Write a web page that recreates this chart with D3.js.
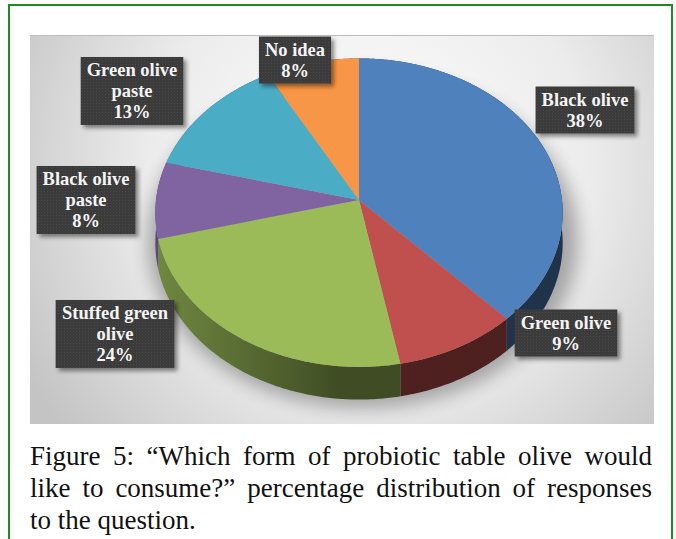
<!DOCTYPE html>
<html>
<head>
<meta charset="utf-8">
<script src="https://cdn.jsdelivr.net/npm/d3@7"></script>
<style>
  body { margin: 0; background: #fff; }
  #wrap { position: relative; width: 676px; height: 539px; overflow: hidden; }
  svg { position: absolute; left: 0; top: 0; }
  #caption { position: absolute; left: 30px; top: 440px; width: 622px;
             font-family: "Liberation Serif", serif; font-size: 27px; color: #111; }
  #caption div { height: 32px; line-height: 32px; white-space: nowrap; }
  #caption .just { text-align: justify; text-align-last: justify; }
</style>
</head>
<body>
<div id="wrap">
  <svg width="676" height="539"></svg>
  <div id="caption"></div>
</div>
<script>
// data
var categories = ['Black olive', 'Green olive', 'Stuffed green olive', 'Black olive paste', 'Green olive paste', 'No idea'];
var values = [38, 9, 24, 8, 13, 8];
var colors = ['#4f81bd', '#c0504d', '#9bbb59', '#8064a2', '#4bacc6', '#f79646'];
var labelLines = [['Black olive'], ['Green olive'], ['Stuffed green', 'olive'], ['Black olive', 'paste'], ['Green olive', 'paste'], ['No idea']];
var captionLines = ['Figure 5: \u201cWhich form of probiotic table olive would',
                    'like to consume?\u201d percentage distribution of responses',
                    'to the question.'];

// layout (label box centres)
var labelPos = [[585, 110], [566, 333], [115, 334], [86, 200], [132, 91], [295, 60]];

var svg = d3.select('svg');
var defs = svg.append('defs');

// outer green frame
svg.append('rect').attr('x', 9).attr('y', 5).attr('width', 663).attr('height', 560)
  .attr('fill', 'none').attr('stroke', '#1f8a1f').attr('stroke-width', 2);

// chart background
var bg = defs.append('radialGradient').attr('id', 'bg')
  .attr('gradientUnits', 'userSpaceOnUse').attr('cx', 370).attr('cy', 170).attr('r', 400);
bg.append('stop').attr('offset', 0).attr('stop-color', '#ffffff');
bg.append('stop').attr('offset', 0.55).attr('stop-color', '#ececec');
bg.append('stop').attr('offset', 1).attr('stop-color', '#c4c4c4');
svg.append('rect').attr('x', 30).attr('y', 35).attr('width', 624).attr('height', 389)
  .attr('fill', 'url(#bg)');
svg.append('line').attr('x1', 30).attr('x2', 654).attr('y1', 35.5).attr('y2', 35.5)
  .attr('stroke', '#bdbdbd');

// filters
var blur = defs.append('filter').attr('id', 'blur').attr('x', '-30%').attr('y', '-30%').attr('width', '160%').attr('height', '160%');
blur.append('feGaussianBlur').attr('stdDeviation', 9);
var ds = defs.append('filter').attr('id', 'ds').attr('x', '-20%').attr('y', '-20%').attr('width', '150%').attr('height', '150%');
ds.append('feDropShadow').attr('dx', 3).attr('dy', 3).attr('stdDeviation', 2)
  .attr('flood-color', '#000').attr('flood-opacity', 0.45);
var pat = defs.append('pattern').attr('id', 'dots').attr('patternUnits', 'userSpaceOnUse')
  .attr('width', 3).attr('height', 3);
pat.append('rect').attr('width', 3).attr('height', 3).attr('fill', '#3b3b3b');
pat.append('rect').attr('width', 1).attr('height', 1).attr('fill', '#4a4a4a');

// 3d projection of the pie
var cx = 359, cy = 200, R = 203, depth = 30;
var tilt = 41 * Math.PI / 180, dist = 8;
var sinT = Math.sin(tilt), cosT = Math.cos(tilt);
function proj(a, drop) {
  var u = Math.sin(a), v = -Math.cos(a);
  var s = dist / (dist - v * sinT);
  return [cx + R * u * s, cy + R * v * cosT * s + (drop || 0) * s];
}
function rim(a0, a1, drop) {
  var n = Math.max(2, Math.ceil((a1 - a0) / 0.01));
  return d3.range(n + 1).map(function(i) { return proj(a0 + (a1 - a0) * i / n, drop); });
}

var arcs = d3.pie().sort(null).value(function(d) { return d; })(values);

// shadow below the pie
svg.append('ellipse').attr('cx', cx + 4).attr('cy', cy + 40).attr('rx', R + 12).attr('ry', 168)
  .attr('fill', '#000').attr('opacity', 0.3).attr('filter', 'url(#blur)');

// side gradients
arcs.forEach(function(d, i) {
  var g = defs.append('linearGradient').attr('id', 'side' + i)
    .attr('gradientUnits', 'userSpaceOnUse').attr('x1', cx - R).attr('x2', cx + R).attr('y1', 0).attr('y2', 0);
  g.append('stop').attr('offset', 0).attr('stop-color', d3.color(colors[i]).darker(0.9));
  g.append('stop').attr('offset', 0.45).attr('stop-color', d3.color(colors[i]).darker(2.5));
  g.append('stop').attr('offset', 1).attr('stop-color', d3.color(colors[i]).darker(2.6));
});

var line = d3.line();
var backSides = [], frontSides = [];
arcs.forEach(function(d, i) {
  var a0 = d.startAngle, a1 = d.endAngle;
  var f0 = Math.max(a0, Math.PI / 2), f1 = Math.min(a1, 3 * Math.PI / 2);
  if (f1 > f0) frontSides.push({ i: i, a0: f0, a1: f1 });
  if (a0 < Math.PI / 2) backSides.push({ i: i, a0: a0, a1: Math.min(a1, Math.PI / 2) });
  if (a1 > 3 * Math.PI / 2) backSides.push({ i: i, a0: Math.max(a0, 3 * Math.PI / 2), a1: a1 });
});
function sidePath(s) {
  var top = rim(s.a0, s.a1, 0), bot = rim(s.a0, s.a1, depth).reverse();
  return line(top.concat(bot)) + 'Z';
}
svg.append('g').selectAll('path').data(backSides.concat(frontSides)).enter().append('path')
  .attr('d', sidePath)
  .attr('fill', function(s) { return 'url(#side' + s.i + ')'; });

// top faces
svg.append('g').selectAll('path').data(arcs).enter().append('path')
  .attr('d', function(d) { return line([[cx, cy]].concat(rim(d.startAngle, d.endAngle, 0))) + 'Z'; })
  .attr('fill', function(d, i) { return colors[i]; });

// data labels
var lab = svg.append('g').selectAll('g').data(arcs).enter().append('g')
  .attr('transform', function(d, i) { return 'translate(' + labelPos[i][0] + ',' + labelPos[i][1] + ')'; });
lab.each(function(d, i) {
  var g = d3.select(this);
  var lines = labelLines[i].concat([values[i] + '%']);
  var lh = 21;
  var box = g.append('rect').attr('fill', 'url(#dots)').attr('filter', 'url(#ds)');
  var t = g.append('text').attr('text-anchor', 'middle')
    .style('font-family', '"Liberation Serif", serif').style('font-weight', 'bold')
    .style('font-size', '18.5px').attr('fill', '#f4f4f4');
  lines.forEach(function(s, k) {
    t.append('tspan').attr('x', 0).attr('y', (k - (lines.length - 1) / 2) * lh + 6).text(s);
  });
  var w = t.node().getBBox().width + 12, h = lines.length * lh + 5;
  box.attr('x', -w / 2).attr('y', -h / 2).attr('width', w).attr('height', h);
});

// caption
d3.select('#caption').selectAll('div').data(captionLines).enter().append('div')
  .attr('class', function(d, i) { return i < captionLines.length - 1 ? 'just' : null; })
  .text(function(d) { return d; });
</script>
</body>
</html>
